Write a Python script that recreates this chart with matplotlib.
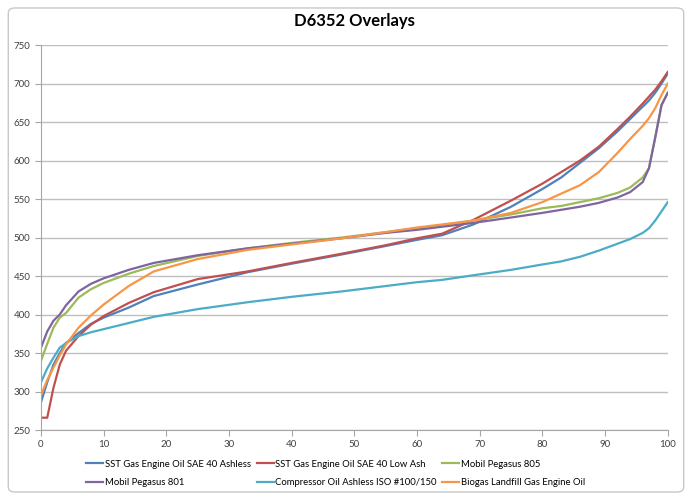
import matplotlib.pyplot as plt
from matplotlib.patches import FancyBboxPatch

# percent recovered (x) and temperature (y)
x = [0, 1, 2, 3, 4, 6, 8, 10, 14, 18, 25, 33, 40, 48, 55, 60, 64, 69, 75,
     80, 83, 86, 89, 92, 94, 96, 97, 98, 99, 100]

sst_ashless = [286, 312, 335, 350, 363, 376, 388, 396, 409, 424, 439, 455, 466, 478,
               489, 497, 503, 517, 540, 563, 578, 597, 616, 638, 654, 670, 678, 688, 700, 713]
sst_low_ash = [266, 266, 305, 335, 353, 372, 387, 398, 415, 429, 446, 456, 467, 479,
               490, 499, 505, 523, 548, 570, 585, 600, 618, 641, 657, 674, 683, 692, 703, 715]
pegasus_805 = [340, 362, 383, 396, 402, 422, 433, 441, 453, 463, 476, 486, 493, 500,
               507, 512, 516, 522, 530, 538, 541, 546, 551, 558, 565, 578, 590, 630, 672, 688]
pegasus_801 = [357, 378, 392, 400, 412, 430, 440, 447, 458, 467, 477, 486, 492, 499,
               506, 510, 514, 519, 526, 532, 536, 540, 545, 552, 559, 572, 590, 630, 672, 688]
compressor = [312, 330, 344, 357, 363, 372, 377, 381, 389, 397, 407, 416, 423, 430,
              437, 442, 445, 451, 458, 465, 469, 475, 483, 492, 498, 506, 512, 522, 534, 546]
biogas = [295, 315, 331, 347, 361, 383, 399, 413, 437, 456, 472, 484, 491, 499,
          507, 513, 517, 522, 532, 546, 557, 568, 585, 610, 628, 645, 655, 668, 685, 700]

labels = ["SST Gas Engine Oil SAE 40 Ashless", "SST Gas Engine Oil SAE 40 Low Ash",
          "Mobil Pegasus 805", "Mobil Pegasus 801",
          "Compressor Oil Ashless ISO #100/150", "Biogas Landfill Gas Engine Oil"]
series = [sst_ashless, sst_low_ash, pegasus_805, pegasus_801, compressor, biogas]
colors = ["#4F81BD", "#C0504D", "#9BBB59", "#8064A2", "#4BACC6", "#F79646"]

plt.rcParams['font.family'] = ['Lato', 'DejaVu Sans']

fig = plt.figure(figsize=(6.92, 4.98), dpi=100)
ax = fig.add_axes([0.0592, 0.1365, 0.9058, 0.7731])

# chart border
fig.patches.append(FancyBboxPatch((0.012, 0.012), 0.976, 0.972, boxstyle="round,pad=0,rounding_size=0.01",
                                  transform=fig.transFigure, fill=False, edgecolor="#C8C8C8", linewidth=1))

lines = []
for ys, lab, c in zip(series, labels, colors):
    ln, = ax.plot(x, ys, color=c, linewidth=1.6, label=lab)
    lines.append(ln)

ax.set_xlim(0, 100)
ax.set_ylim(250, 750)
ax.set_xticks(range(0, 101, 10))
ax.set_yticks(range(250, 751, 50))
ax.grid(axis='y', color="#BFBFBF", linewidth=1)
ax.set_axisbelow(True)
for s in ["top", "right"]:
    ax.spines[s].set_visible(False)
for s in ["left", "bottom"]:
    ax.spines[s].set_color("#A6A6A6")
ax.tick_params(colors="#A6A6A6", labelcolor="#404040", labelsize=7, length=4, direction='out')

ax.set_title("D6352 Overlays", fontsize=12, fontweight='bold', pad=14)

# row-wise legend order for a 3-column layout
order = [0, 3, 1, 4, 2, 5]
fig.legend([lines[i] for i in order], [labels[i] for i in order], loc='lower center',
           bbox_to_anchor=(0.485, 0.005), ncol=3, frameon=False, fontsize=6.8,
           handlelength=1.8, columnspacing=0.6, handletextpad=0.15, labelspacing=1.0)

fig.savefig("out.png", dpi=100)
